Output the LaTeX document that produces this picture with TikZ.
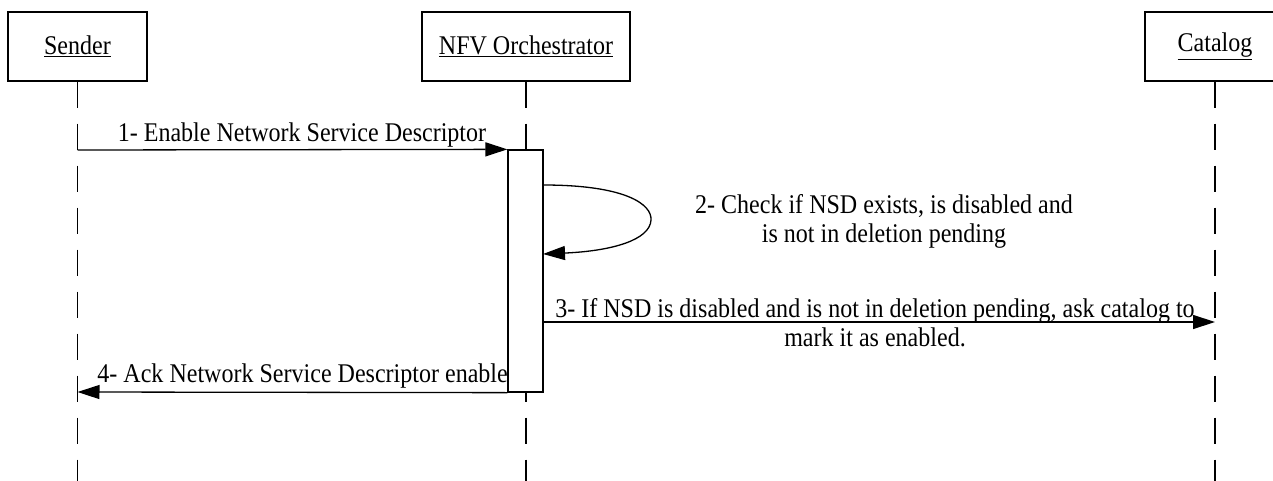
\documentclass[tikz,border=0pt]{standalone}
\usepackage{fontspec}
\setmainfont{Liberation Serif}[FakeStretch=0.89]
\usetikzlibrary{arrows.meta}
\begin{document}
\begin{tikzpicture}[x=1pt,y=-1pt,
  font=\fontsize{27}{29}\selectfont,
  actor/.style={draw, line width=1.4pt, minimum height=69pt, inner sep=0pt},
  life/.style={line width=1.3pt, dash pattern=on 26pt off 16pt},
  msg/.style={line width=1.3pt, -{Triangle[length=22pt,width=14pt]}},
  lbl/.style={inner sep=0pt, align=center}]
\useasboundingbox (0,0) rectangle (1273,481);
\fill[white] (0,0) rectangle (1273,481);
\clip (0,0) rectangle (1273,481);
% actors
\node[actor, minimum width=139pt] (sender) at (77.5,46.5) {\underline{Sender}};
\node[actor, minimum width=208pt] (nfv) at (526,46.5) {\underline{NFV Orchestrator}};
\node[actor, minimum width=140pt] (catalog) at (1215,46.5) {\underline{Catalog}};
% lifelines
\coordinate (sbot) at (77.5,481);
\coordinate (nbot) at (526,481);
\coordinate (cbot) at (1215,481);
\draw[life] (sender.south) -- (sbot);
\draw[life] (nfv.south) -- (nbot);
\draw[life] (catalog.south) -- (cbot);
% message 4 label (drawn below the activation bar)
\node[lbl, anchor=base east] (l4) at (508,382) {4- Ack Network Service Descriptor enable};
% activation bar
\node[draw, fill=white, line width=1.3pt, minimum width=35pt, minimum height=242pt, inner sep=0pt] (act) at (525.5,271) {};
% message 1
\coordinate (s1) at (77.5,150);
\draw[msg] (s1) -- (act.north west);
\node[lbl, anchor=base] (l1) at (302,142) {1- Enable Network Service Descriptor};
% message 2 (self)
\coordinate (m2a) at (543,185);
\coordinate (m2b) at (543,254);
\draw[msg] (m2a) .. controls (625,185) and (652,204) .. (651,220) .. controls (650,240) and (612,251) .. (m2b);
\node[lbl, anchor=base] (l2) at (884,242) {2- Check if NSD exists, is disabled and\\is not in deletion pending};
% message 3
\coordinate (m3a) at (543,322);
\coordinate (m3b) at (1215,322);
\draw[msg] (m3a) -- (m3b);
\node[lbl, anchor=base] (l3) at (875,346) {3- If NSD is disabled and is not in deletion pending, ask catalog to\\mark it as enabled.};
% message 4
\coordinate (s4) at (77.5,392);
\draw[msg] (act.south west) -- (s4);
\end{tikzpicture}
\end{document}
